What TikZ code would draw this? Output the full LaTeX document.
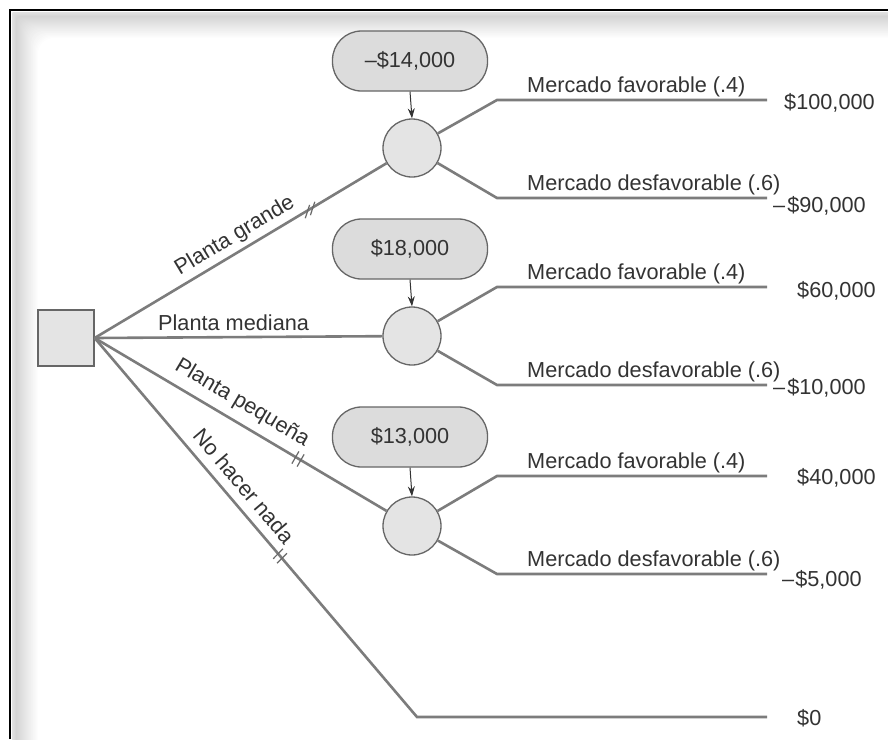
\documentclass[tikz,border=0pt]{standalone}
\usepackage{fontspec}
\setmainfont{Liberation Sans}
\usetikzlibrary{arrows.meta}
\definecolor{linegray}{HTML}{7C7C7C}
\definecolor{edgegray}{HTML}{666666}
\definecolor{fillgray}{HTML}{E4E4E4}
\definecolor{boxgray}{HTML}{DCDCDC}
\definecolor{txt}{HTML}{333333}
\definecolor{shadowgray}{HTML}{D4D4D4}
\begin{document}
\begin{tikzpicture}[x=1pt,y=-1pt,
  every node/.style={font=\fontsize{21.7}{26}\selectfont, text=txt},
  conn/.style={draw=linegray, line width=2.6pt},
  tickmark/.style={draw=linegray!85!black, line width=1.2pt},
  decision/.style={draw=edgegray, fill=fillgray, line width=1.3pt, minimum size=56pt, inner sep=0pt},
  chance/.style={circle, draw=edgegray, fill=fillgray, line width=1.3pt, minimum size=58pt, inner sep=0pt},
  costbox/.style={draw=edgegray, fill=boxgray, line width=1.3pt, rounded corners=29pt, minimum width=155pt, minimum height=60pt, inner sep=0pt},
  costarrow/.style={draw=txt, line width=1pt, -{Stealth[length=10pt,width=7pt]}},
  branchlabel/.style={anchor=base west, inner sep=0pt},
  payoff/.style={anchor=west, inner sep=0pt}
]
\useasboundingbox (0,0) rectangle (888,739);
% frame with soft inner shadow
\begin{scope}
  \clip (12,12) rectangle (888,739);
  \foreach \i in {0,...,26} {
    \pgfmathtruncatemacro\p{\i<4 ? 70+7.5*\i : 100-(\i-4)*100/22}
    \pgfmathsetmacro\r{1+0.55*\i}
    \fill[shadowgray!\p!white, rounded corners=\r pt] (12+\i,12+\i) rectangle (930,790);
  }
\end{scope}
\draw[black, line width=2.6pt] (10,739) -- (10,10) -- (888,10);

% decision node
\node[decision] (dec) at (66,338) {};
\coordinate (o) at (dec.east);

% chance nodes
\node[chance] (c1) at (412,148) {};
\node[chance] (c2) at (412,336) {};
\node[chance] (c3) at (412,526) {};

% cost boxes
\node[costbox] (b1) at (410,61) {–\$14,000};
\node[costbox] (b2) at (410,249) {\$18,000};
\node[costbox] (b3) at (410,437) {\$13,000};
\draw[costarrow] (b1.south) -- (c1.north);
\draw[costarrow] (b2.south) -- (c2.north);
\draw[costarrow] (b3.south) -- (c3.north);

% main branches
\coordinate (nk) at (417,717);
\coordinate (n0) at (767,717);
\draw[conn] (o) -- (c1);
\draw[conn] (o) -- (c2);
\draw[conn] (o) -- (c3);
\draw[conn] (o) -- (nk) -- (n0);

% outcome branches
\coordinate (k1u) at (497,100); \coordinate (e1u) at (767,100);
\coordinate (k1d) at (497,198); \coordinate (e1d) at (767,198);
\coordinate (k2u) at (497,287); \coordinate (e2u) at (767,287);
\coordinate (k2d) at (497,385); \coordinate (e2d) at (767,385);
\coordinate (k3u) at (497,476); \coordinate (e3u) at (767,476);
\coordinate (k3d) at (497,574); \coordinate (e3d) at (767,574);
\draw[conn] (c1) -- (k1u) -- (e1u);
\draw[conn] (c1) -- (k1d) -- (e1d);
\draw[conn] (c2) -- (k2u) -- (e2u);
\draw[conn] (c2) -- (k2d) -- (e2d);
\draw[conn] (c3) -- (k3u) -- (e3u);
\draw[conn] (c3) -- (k3d) -- (e3d);

% tick marks
\draw[tickmark] (309.6,204.9) -- (305.3,218.2);
\draw[tickmark] (314.8,201.8) -- (310.4,215.2);
\draw[tickmark] (298.9,451.4) -- (291.9,463.6);
\draw[tickmark] (304.1,454.4) -- (297.1,466.6);
\draw[tickmark] (283.0,548.8) -- (273.2,558.7);
\draw[tickmark] (286.9,553.3) -- (277.0,563.2);

% branch labels
\node[rotate=31, inner sep=0pt] (lg) at (235,236) {Planta grande};
\node[branchlabel] (lm) at (158,330) {Planta mediana};
\node[rotate=-30.7, inner sep=0pt] (lp) at (242,403) {Planta pequeña};
\node[rotate=-49.6, inner sep=0pt] (ln) at (244,486) {No hacer nada};

\node[branchlabel] (m1u) at (527,92) {Mercado favorable (.4)};
\node[branchlabel] (m1d) at (527,190) {Mercado desfavorable (.6)};
\node[branchlabel] (m2u) at (527,279) {Mercado favorable (.4)};
\node[branchlabel] (m2d) at (527,377) {Mercado desfavorable (.6)};
\node[branchlabel] (m3u) at (527,468) {Mercado favorable (.4)};
\node[branchlabel] (m3d) at (527,566) {Mercado desfavorable (.6)};

% payoffs
\node[payoff] (p1u) at (784,103) {\$100,000};
\node[payoff] (p1d) at (773,206) {–\kern2pt\$90,000};
\node[payoff] (p2u) at (797,291) {\$60,000};
\node[payoff] (p2d) at (773,388) {–\kern2pt\$10,000};
\node[payoff] (p3u) at (797,478) {\$40,000};
\node[payoff] (p3d) at (782,580) {–\kern1pt\$5,000};
\node[payoff] (p0) at (797,718) {\$0};
\end{tikzpicture}
\end{document}
